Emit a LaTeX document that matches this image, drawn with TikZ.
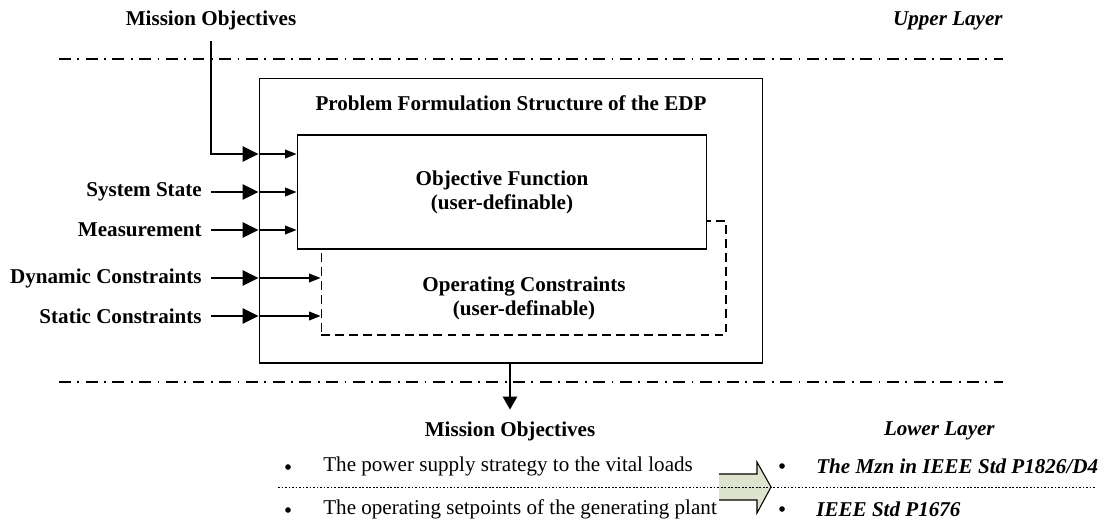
\documentclass[tikz,border=0pt]{standalone}
\usepackage{fontspec}
\setmainfont{Liberation Serif}
\usetikzlibrary{arrows.meta,positioning}

\definecolor{arrowgreen}{RGB}{221,227,204}

\begin{document}
\begin{tikzpicture}[x=0.02cm,y=-0.02cm,
    boldtext/.style={font=\fontsize{12}{13.6}\selectfont\bfseries},
    bolditalic/.style={font=\fontsize{12}{13.6}\selectfont\bfseries\itshape},
    itemtext/.style={font=\fontsize{12}{13.6}\selectfont},
    bulletdot/.style={circle,fill,inner sep=0pt,minimum size=3.2pt},
    layerline/.style={line width=0.6pt,dash pattern=on 6.8pt off 3.7pt on 1pt off 3.7pt},
    boxline/.style={line width=0.6pt},
    dashbox/.style={line width=0.6pt,dash pattern=on 5pt off 3pt},
    thickarrow/.style={line width=1.6pt,-{Triangle[length=9pt,width=8.5pt]}},
    thinarrow/.style={line width=0.6pt,-{Triangle[length=6.5pt,width=5pt]}},
    downarrow/.style={line width=1.6pt,-{Triangle[length=7.5pt,width=8pt]}},
    lbl/.style={boldtext,inner xsep=5.1pt,anchor=east}]

    \useasboundingbox (0,0) rectangle (1104,525);

    %layers
    \draw[layerline] (59,59) -- (1003,59);
    \draw[layerline] (59,382) -- (1003,382);
    \node[bolditalic,anchor=east,inner sep=0pt] (upper) at (1003,21) {Upper Layer};
    \node[bolditalic,anchor=east,inner sep=0pt] (lower) at (995,431) {Lower Layer};

    %structure of the EDP
    \node[draw,boxline,minimum width=10.08cm,minimum height=5.7cm] (outer) at (511,220.5) {};
    \node[boldtext] (title) at (511,103) {Problem Formulation Structure of the EDP};
    \node[draw,dashbox,minimum width=8.1cm,minimum height=2.28cm] (opc) at (523.5,278) {};
    \node[boldtext,align=center] (opctext) at (524,298) {Operating Constraints\\(user-definable)};
    \node[draw,boxline,fill=white,boldtext,align=center,minimum width=8.2cm,minimum height=2.28cm] (obj) at (502,192) {Objective Function\\(user-definable)};

    %inputs
    \node[boldtext,inner ysep=6.5pt] (mtop) at (211,20) {Mission Objectives};
    \coordinate (mbend) at (211,154);
    \draw[thickarrow] (mtop.south) -- (mbend) -- (outer.west |- mbend);
    \draw[thinarrow] (outer.west |- mbend) -- (obj.west |- mbend);
    \foreach \name/\txt/\y/\dest in {state/System State/192/obj,meas/Measurement/230/obj,dyn/Dynamic Constraints/278/opc,stat/Static Constraints/316/opc}{
        \node[lbl] (\name) at (211,\y) {\txt};
        \draw[thickarrow] (\name.east) -- (outer.west |- \name.east);
        \draw[thinarrow] (outer.west |- \name.east) -- (\dest.west |- \name.east);
    }

    %output
    \node[boldtext,inner ysep=6.5pt] (mbot) at (510,431) {Mission Objectives};
    \draw[downarrow] (outer.south -| mbot.north) -- (mbot.north);

    %mapping to the lower layer
    \fill[arrowgreen] (719,474) -- (757,474) -- (757,462) -- (771,487) -- (757,513) -- (757,500) -- (719,500) -- cycle;
    \draw[boxline] (719,474) -- (757,474) -- (757,462) -- (771,487) -- (757,513) -- (757,500) -- (719,500);
    \draw[line width=0.5pt,dash pattern=on 1pt off 1pt] (278,487) -- (1095,487);

    \node[bulletdot] (b1) at (288,467) {};
    \node[itemtext,anchor=west,inner sep=0pt] (it1) at (323,466) {The power supply strategy to the vital loads};
    \node[bulletdot] (b2) at (288,510) {};
    \node[itemtext,anchor=west,inner sep=0pt] (it2) at (323,509) {The operating setpoints of the generating plant};
    \node[bulletdot] (b3) at (782,466) {};
    \node[bolditalic,anchor=west,inner sep=0pt] (it3) at (816,466) {The Mzn in IEEE Std P1826/D4};
    \node[bulletdot] (b4) at (782,509) {};
    \node[bolditalic,anchor=west,inner sep=0pt] (it4) at (816,509) {IEEE Std P1676};
\end{tikzpicture}
\end{document}
